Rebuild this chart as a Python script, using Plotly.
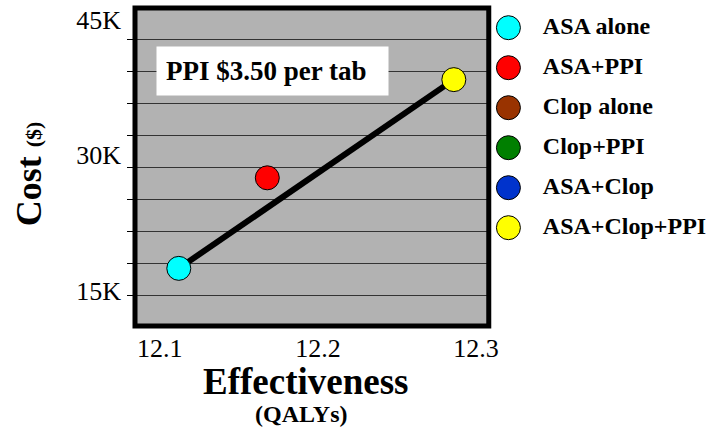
import plotly.graph_objects as go

# ---- data ----
strategies = ["ASA alone", "ASA+PPI", "Clop alone", "Clop+PPI", "ASA+Clop", "ASA+Clop+PPI"]
colors = ["#00FFFF", "#FF0000", "#993300", "#007F00", "#0033CC", "#FFFF00"]
effectiveness = [12.112, 12.168, None, None, None, 12.286]   # QALYs (off-chart ones: None)
cost = [17450, 27500, None, None, None, 38400]                # $
frontier = ["ASA alone", "ASA+Clop+PPI"]
y_tick_vals = [15000, 30000, 45000]
y_tick_text = ["15K", "30K", "45K"]
x_tick_vals = [12.1, 12.2, 12.3]
x_tick_text = ["12.1", "12.2", "12.3"]
note_text = "PPI $3.50 per tab"

SERIF = "Liberation Serif, Times New Roman, serif"
W, H = 712, 437
ML, MR, MT, MB = 135, 0, 8, 111
PW = W - ML - MR
PH = H - MT - MB
main_w = 360

fig = go.Figure()

# frontier line
fx = [effectiveness[strategies.index(s)] for s in frontier]
fy = [cost[strategies.index(s)] for s in frontier]
fig.add_trace(go.Scatter(x=fx, y=fy, mode="lines",
                         line=dict(color="black", width=6),
                         hoverinfo="skip", showlegend=False))

# points
for s, c, ex, cy in zip(strategies, colors, effectiveness, cost):
    if ex is None:
        continue
    fig.add_trace(go.Scatter(x=[ex], y=[cy], mode="markers", name=s,
                             marker=dict(size=24, color=c, line=dict(color="black", width=1)),
                             showlegend=False))

# custom legend on secondary axes
idx = list(range(len(strategies)))
fig.add_trace(go.Scatter(x=[0] * len(strategies), y=idx, mode="markers",
                         marker=dict(size=24, color=colors, line=dict(color="black", width=1)),
                         xaxis="x2", yaxis="y2", hoverinfo="skip", showlegend=False))
fig.add_trace(go.Scatter(x=[35] * len(strategies), y=idx, mode="text",
                         text=["<b>%s</b>" % s for s in strategies],
                         textposition="middle right", cliponaxis=False,
                         textfont=dict(family=SERIF, size=24, color="black"),
                         xaxis="x2", yaxis="y2", hoverinfo="skip", showlegend=False))

fig.update_layout(
    width=W, height=H,
    margin=dict(l=ML, r=MR, t=MT, b=MB, pad=0),
    paper_bgcolor="white",
    plot_bgcolor="white",
    font=dict(family=SERIF, color="black"),
    showlegend=False,
    xaxis=dict(domain=[0, main_w / PW], range=[12.0843, 12.3081],
               tickvals=x_tick_vals, ticktext=x_tick_text,
               tickfont=dict(size=26), ticks="", showgrid=False, zeroline=False,
               showline=False, ticklabelstandoff=4),
    yaxis=dict(range=[11052, 46350], tickvals=y_tick_vals, ticktext=y_tick_text,
               tickfont=dict(size=26), ticks="", showgrid=False, zeroline=False,
               showline=False, ticklabelstandoff=13,
               minor=dict(tick0=14493, dtick=3552, showgrid=True, gridcolor="#333333",
                          gridwidth=1, ticks="outside", ticklen=7, tickcolor="black",
                          tickwidth=1)),
    xaxis2=dict(domain=[(497 - ML) / PW, 1], range=[-18, 197], visible=False),
    yaxis2=dict(domain=[0, 1], range=[7.4575, -0.4925], visible=False, anchor="x2"),
    shapes=[
        dict(type="rect", xref="x domain", yref="y domain", x0=0, x1=1, y0=0, y1=1,
             line=dict(width=0), fillcolor="#B2B2B2", layer="below"),
        dict(type="rect", xref="paper", yref="paper", x0=0, x1=main_w / PW,
             y0=0, y1=1, line=dict(color="black", width=5), layer="above"),
    ],
    annotations=[
        dict(text="<b>" + note_text + "</b>", xref="paper", yref="paper",
             x=(274.7 - ML) / PW, y=(MT + PH - 71) / PH, xanchor="center", yanchor="middle",
             showarrow=False, font=dict(size=27), bgcolor="white",
             width=213, height=30, align="left", borderpad=9),
        dict(text="<b>Cost</b> <span style='font-size:22px'><b>($)</b></span>",
             xref="paper", yref="paper", x=(28 - ML) / PW, y=(MT + PH - 173.5) / PH,
             xanchor="center", yanchor="middle", textangle=-90, showarrow=False,
             font=dict(size=36)),
        dict(text="<b>Effectiveness</b>", xref="paper", yref="paper",
             x=(309 - ML) / PW, y=(MT + PH - 381) / PH, xanchor="center", yanchor="middle",
             showarrow=False, font=dict(size=37), height=34),
        dict(text="<b>(QALYs)</b>", xref="paper", yref="paper",
             x=(304 - ML) / PW, y=(MT + PH - 414) / PH, xanchor="center", yanchor="middle",
             showarrow=False, font=dict(size=24)),
    ],
)

fig.write_html("out.html")
